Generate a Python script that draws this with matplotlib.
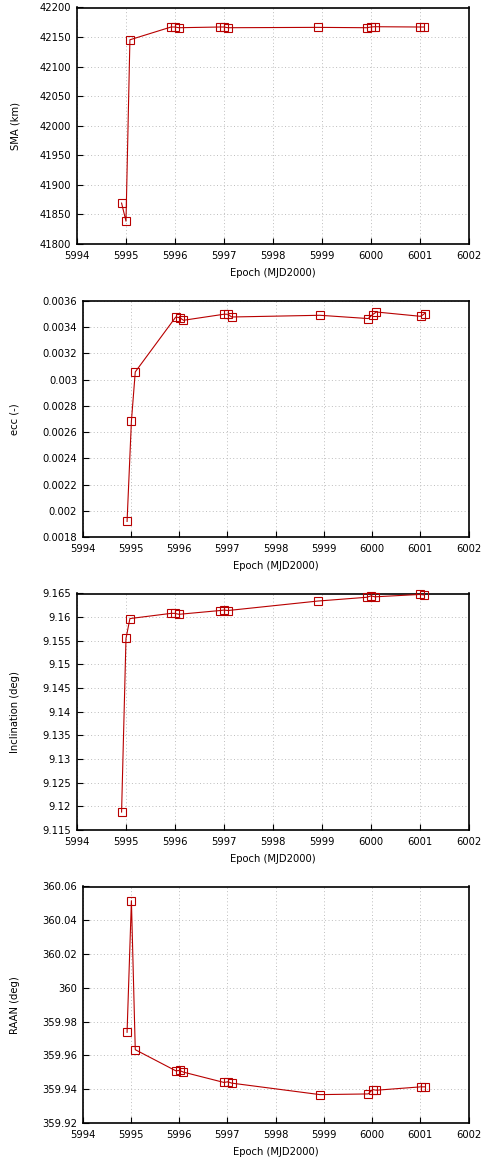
import matplotlib
matplotlib.use("Agg")
import matplotlib.pyplot as plt
from matplotlib.ticker import MultipleLocator, FormatStrFormatter

# epochs (MJD2000) of the 15 orbit determinations
epoch = [5994.92, 5995.01, 5995.09,
         5995.93, 5996.01, 5996.09,
         5996.93, 5997.01, 5997.09,
         5998.92,
         5999.92, 6000.01, 6000.09,
         6001.01, 6001.09]

sma = [41869.2, 41838.6, 42145.4,
       42167.0, 42167.0, 42165.8,
       42167.0, 42167.0, 42165.8,
       42166.4,
       42165.8, 42167.0, 42167.5,
       42167.0, 42167.0]

ecc = [0.001920, 0.002683, 0.003058,
       0.003476, 0.003471, 0.003451,
       0.003497, 0.003497, 0.003476,
       0.003489,
       0.003464, 0.003494, 0.003514,
       0.003481, 0.003502]

inc = [9.1188, 9.1555, 9.1597,
       9.1608, 9.1608, 9.1606,
       9.1614, 9.1615, 9.1614,
       9.1634,
       9.1642, 9.1645, 9.1643,
       9.1648, 9.1647]

raan = [359.9737, 360.0516, 359.9634,
        359.9509, 359.9511, 359.9501,
        359.9440, 359.9444, 359.9436,
        359.9368,
        359.9372, 359.9398, 359.9394,
        359.9414, 359.9414]

W, H = 484, 1164
fig = plt.figure(figsize=(W / 100, H / 100), dpi=100)

# (values, ylabel, ymin, ymax, ystep, left px, top px)
panels = [
    (sma, "SMA (km)", 41800, 42200, 50, 76.5, 7.5),
    (ecc, "ecc (-)", 0.0018, 0.0036, 0.0002, 82.7, 300.7),
    (inc, "Inclination (deg)", 9.115, 9.165, 0.005, 76.5, 593.5),
    (raan, "RAAN (deg)", 359.92, 360.06, 0.02, 82.7, 886.5),
]

right_px = 468.5
height_px = 236.5
fs = 7.2
red = "#b80000"

for vals, ylab, y0, y1, ystep, left_px, top_px in panels:
    w_px = right_px - left_px
    ax = fig.add_axes([left_px / W, 1 - (top_px + height_px) / H, w_px / W, height_px / H])
    ax.plot(epoch, vals, color=red, lw=0.8, marker="s", ms=6,
            mfc="none", mec=red, mew=0.8, clip_on=False, zorder=3)
    ax.set_xlim(5994, 6002)
    ax.set_ylim(y0, y1)
    ax.xaxis.set_major_locator(MultipleLocator(1))
    ax.yaxis.set_major_locator(MultipleLocator(ystep))
    ax.yaxis.set_major_formatter(FormatStrFormatter("%g"))
    ax.xaxis.set_major_formatter(FormatStrFormatter("%d"))
    ax.tick_params(direction="in", length=4, width=0.8, labelsize=fs,
                   top=False, right=False, pad=4)
    ax.tick_params(axis="x", pad=5)
    ax.grid(True, linestyle=(0, (1, 2.5)), color="#bdbdbd", lw=0.7)
    for s in ax.spines.values():
        s.set_linewidth(1.2)
    ax.set_ylabel(ylab, fontsize=fs)
    ax.yaxis.set_label_coords((20 - left_px) / w_px, 0.5)
    ax.set_xlabel("Epoch (MJD2000)", fontsize=fs)
    ax.xaxis.set_label_coords(0.5, -24 / height_px)
    ax.xaxis.label.set_va("top")

fig.savefig("out.png", dpi=100)
